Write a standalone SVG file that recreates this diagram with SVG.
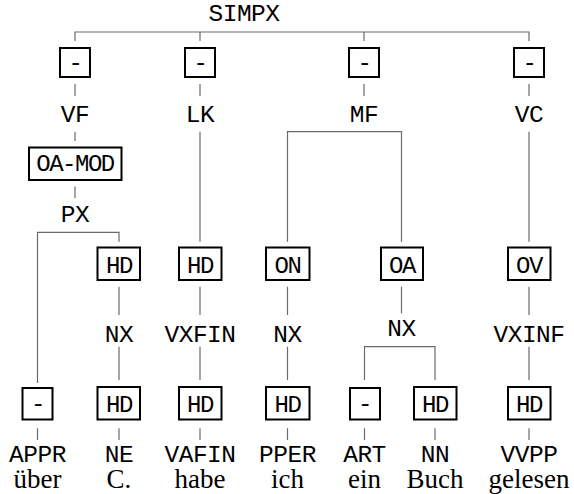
<svg xmlns="http://www.w3.org/2000/svg" width="574" height="494" viewBox="0 0 574 494">
<style>
.bg{fill:#fff}
.lbl{font-family:"Liberation Mono","DejaVu Sans Mono",monospace;font-size:24.5px;fill:#000;text-anchor:middle;letter-spacing:-0.5px}
.blbl{font-family:"Liberation Mono","DejaVu Sans Mono",monospace;font-size:24px;fill:#000;text-anchor:middle;letter-spacing:-1.5px}
.word{font-family:"Liberation Serif","DejaVu Serif",serif;font-size:27px;fill:#000;text-anchor:middle}
.box{fill:#fff;stroke:#000;stroke-width:2}
.edge{fill:none;stroke:#6a6a6a;stroke-width:1.2}
</style>
<rect class="bg" x="0" y="0" width="574" height="494"/>

<g id="connectors">
  <!-- SIMPX -->
  <path class="edge" d="M75,41 V32 H529 V41 M200,32 V41 M364,32 V41"/>
  <!-- top boxes to fields -->
  <path class="edge" d="M75,84 V96 M200,84 V96 M364,84 V96 M529,84 V96"/>
  <!-- VF -> OA-MOD -> PX -->
  <path class="edge" d="M75,132 V141 M75,186.5 V198"/>
  <!-- PX branching -->
  <path class="edge" d="M37.5,383 V232.3 H119 V241.7"/>
  <!-- LK -->
  <path class="edge" d="M200,131.7 V241.7"/>
  <!-- MF branching -->
  <path class="edge" d="M287.5,241.7 V131.7 H401.5 V241.7"/>
  <!-- VC -->
  <path class="edge" d="M529,131.7 V241.7"/>
  <!-- middle boxes to phrases -->
  <path class="edge" d="M119,286.7 V315 M200,286.7 V315 M287.5,286.7 V315 M401.5,286.7 V313.3 M529,286.7 V315"/>
  <!-- phrases to bottom boxes -->
  <path class="edge" d="M119,346.7 V380 M200,346.7 V380 M287.5,346.7 V380 M529,346.7 V380"/>
  <!-- OA NX branching -->
  <path class="edge" d="M364.5,380 V346.7 H435 V380"/>
  <!-- bottom boxes to tags -->
  <path class="edge" d="M37.5,428.3 V440 M119,428.3 V440 M200,428.3 V440 M287.5,428.3 V440 M364.5,428.3 V440 M435,428.3 V440 M529,428.3 V440"/>
</g>

<g id="n-simpx"><text class="lbl" x="244" y="21">SIMPX</text></g>

<g id="e-vf"><rect class="box" x="60" y="48" width="30" height="29"/><text class="blbl" x="75" y="70">-</text></g>
<g id="e-lk"><rect class="box" x="185" y="48" width="30" height="29"/><text class="blbl" x="200" y="70">-</text></g>
<g id="e-mf"><rect class="box" x="349" y="48" width="30" height="29"/><text class="blbl" x="364" y="70">-</text></g>
<g id="e-vc"><rect class="box" x="514" y="48" width="30" height="29"/><text class="blbl" x="529" y="70">-</text></g>

<g id="n-vf"><text class="lbl" x="75" y="121.5">VF</text></g>
<g id="n-lk"><text class="lbl" x="200" y="121.5">LK</text></g>
<g id="n-mf"><text class="lbl" x="364" y="121.5">MF</text></g>
<g id="n-vc"><text class="lbl" x="529" y="121.5">VC</text></g>

<g id="e-oamod"><rect class="box" x="29" y="147.5" width="92.5" height="32.5"/><text class="blbl" x="75" y="171">OA-MOD</text></g>
<g id="n-px"><text class="lbl" x="75" y="221.5">PX</text></g>

<g id="e-hd1"><rect class="box" x="97.5" y="247.5" width="42.5" height="32.5"/><text class="blbl" x="119" y="272.5">HD</text></g>
<g id="e-hd2"><rect class="box" x="179" y="247.5" width="42.5" height="32.5"/><text class="blbl" x="200" y="272.5">HD</text></g>
<g id="e-on"><rect class="box" x="266" y="247.5" width="43.5" height="32.5"/><text class="blbl" x="287.5" y="272.5">ON</text></g>
<g id="e-oa"><rect class="box" x="381" y="247.5" width="42" height="32.5"/><text class="blbl" x="402" y="272.5">OA</text></g>
<g id="e-ov"><rect class="box" x="508" y="247.5" width="42.5" height="32.5"/><text class="blbl" x="529" y="272.5">OV</text></g>

<g id="n-nx1"><text class="lbl" x="119" y="341.5">NX</text></g>
<g id="n-vxfin"><text class="lbl" x="200" y="341.5">VXFIN</text></g>
<g id="n-nx2"><text class="lbl" x="287.5" y="341.5">NX</text></g>
<g id="n-nx3"><text class="lbl" x="401.5" y="336">NX</text></g>
<g id="n-vxinf"><text class="lbl" x="529" y="341.5">VXINF</text></g>

<g id="e-b1"><rect class="box" x="22.5" y="388" width="30" height="31.5"/><text class="blbl" x="37.5" y="411">-</text></g>
<g id="e-b2"><rect class="box" x="97.5" y="387" width="42.5" height="32.5"/><text class="blbl" x="119" y="412">HD</text></g>
<g id="e-b3"><rect class="box" x="179" y="387" width="42.5" height="32.5"/><text class="blbl" x="200" y="412">HD</text></g>
<g id="e-b4"><rect class="box" x="266" y="387" width="43.5" height="32.5"/><text class="blbl" x="287.5" y="412">HD</text></g>
<g id="e-b5"><rect class="box" x="350" y="388" width="30" height="31.5"/><text class="blbl" x="364.5" y="411">-</text></g>
<g id="e-b6"><rect class="box" x="414" y="387" width="42.5" height="32.5"/><text class="blbl" x="435" y="412">HD</text></g>
<g id="e-b7"><rect class="box" x="508" y="387" width="42.5" height="32.5"/><text class="blbl" x="529" y="412">HD</text></g>

<g id="t1"><text class="lbl" x="37.5" y="461.5">APPR</text><text class="word" x="37.5" y="488">über</text></g>
<g id="t2"><text class="lbl" x="119" y="461.5">NE</text><text class="word" x="119" y="488">C.</text></g>
<g id="t3"><text class="lbl" x="200" y="461.5">VAFIN</text><text class="word" x="200" y="488">habe</text></g>
<g id="t4"><text class="lbl" x="287.5" y="461.5">PPER</text><text class="word" x="287.5" y="488">ich</text></g>
<g id="t5"><text class="lbl" x="364.5" y="461.5">ART</text><text class="word" x="364.5" y="488">ein</text></g>
<g id="t6"><text class="lbl" x="435" y="461.5">NN</text><text class="word" x="435" y="488">Buch</text></g>
<g id="t7"><text class="lbl" x="529" y="461.5">VVPP</text><text class="word" x="529" y="488">gelesen</text></g>
</svg>
